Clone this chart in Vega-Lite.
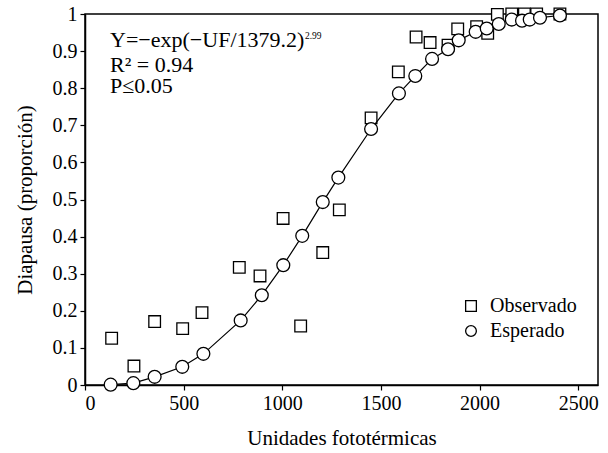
{
  "$schema": "https://vega.github.io/schema/vega-lite/v6.json",
  "width": 513,
  "height": 371,
  "autosize": {"type": "none"},
  "padding": {"left": 85, "top": 14, "right": 10, "bottom": 68},
  "background": "white",
  "config": {
    "font": "Liberation Serif",
    "view": {"stroke": "black", "strokeWidth": 1.5},
    "axis": {
      "grid": false,
      "domainColor": "black",
      "domainWidth": 1.5,
      "tickColor": "black",
      "tickWidth": 1.2,
      "tickSize": 5,
      "labelColor": "black",
      "titleColor": "black",
      "labelFont": "Liberation Serif",
      "titleFont": "Liberation Serif",
      "labelFontSize": 20,
      "titleFontSize": 21,
      "titleFontWeight": "normal",
      "labelPadding": 3
    },
    "legend": {
      "labelFont": "Liberation Serif",
      "labelFontSize": 20,
      "labelColor": "black"
    }
  },
  "datasets": {
    "pts": [
      {"uf": 135, "prop": 0.126, "serie": "Observado"},
      {"uf": 248, "prop": 0.051, "serie": "Observado"},
      {"uf": 353, "prop": 0.171, "serie": "Observado"},
      {"uf": 495, "prop": 0.152, "serie": "Observado"},
      {"uf": 593, "prop": 0.195, "serie": "Observado"},
      {"uf": 782, "prop": 0.317, "serie": "Observado"},
      {"uf": 887, "prop": 0.294, "serie": "Observado"},
      {"uf": 1004, "prop": 0.449, "serie": "Observado"},
      {"uf": 1093, "prop": 0.159, "serie": "Observado"},
      {"uf": 1205, "prop": 0.357, "serie": "Observado"},
      {"uf": 1289, "prop": 0.472, "serie": "Observado"},
      {"uf": 1450, "prop": 0.72, "serie": "Observado"},
      {"uf": 1588, "prop": 0.844, "serie": "Observado"},
      {"uf": 1678, "prop": 0.938, "serie": "Observado"},
      {"uf": 1749, "prop": 0.923, "serie": "Observado"},
      {"uf": 1840, "prop": 0.916, "serie": "Observado"},
      {"uf": 1889, "prop": 0.96, "serie": "Observado"},
      {"uf": 1985, "prop": 0.966, "serie": "Observado"},
      {"uf": 2041, "prop": 0.948, "serie": "Observado"},
      {"uf": 2090, "prop": 0.999, "serie": "Observado"},
      {"uf": 2163, "prop": 1.0, "serie": "Observado"},
      {"uf": 2227, "prop": 1.0, "serie": "Observado"},
      {"uf": 2289, "prop": 1.0, "serie": "Observado"},
      {"uf": 2407, "prop": 1.0, "serie": "Observado"},
      {"uf": 130, "prop": 0.001, "serie": "Esperado"},
      {"uf": 245, "prop": 0.005, "serie": "Esperado"},
      {"uf": 353, "prop": 0.022, "serie": "Esperado"},
      {"uf": 493, "prop": 0.049, "serie": "Esperado"},
      {"uf": 600, "prop": 0.084, "serie": "Esperado"},
      {"uf": 789, "prop": 0.174, "serie": "Esperado"},
      {"uf": 896, "prop": 0.242, "serie": "Esperado"},
      {"uf": 1005, "prop": 0.323, "serie": "Esperado"},
      {"uf": 1101, "prop": 0.402, "serie": "Esperado"},
      {"uf": 1205, "prop": 0.493, "serie": "Esperado"},
      {"uf": 1284, "prop": 0.559, "serie": "Esperado"},
      {"uf": 1450, "prop": 0.69, "serie": "Esperado"},
      {"uf": 1591, "prop": 0.786, "serie": "Esperado"},
      {"uf": 1674, "prop": 0.833, "serie": "Esperado"},
      {"uf": 1759, "prop": 0.879, "serie": "Esperado"},
      {"uf": 1840, "prop": 0.905, "serie": "Esperado"},
      {"uf": 1894, "prop": 0.929, "serie": "Esperado"},
      {"uf": 1980, "prop": 0.952, "serie": "Esperado"},
      {"uf": 2036, "prop": 0.961, "serie": "Esperado"},
      {"uf": 2097, "prop": 0.973, "serie": "Esperado"},
      {"uf": 2163, "prop": 0.985, "serie": "Esperado"},
      {"uf": 2215, "prop": 0.982, "serie": "Esperado"},
      {"uf": 2254, "prop": 0.985, "serie": "Esperado"},
      {"uf": 2306, "prop": 0.99, "serie": "Esperado"},
      {"uf": 2407, "prop": 0.996, "serie": "Esperado"}
    ]
  },
  "layer": [
    {
      "data": {"name": "pts"},
      "transform": [{"filter": "datum.serie === 'Observado'"}],
      "mark": {"type": "point", "filled": false, "color": "black", "fill": "white", "fillOpacity": 1, "strokeWidth": 1.3, "size": 135, "opacity": 1},
      "encoding": {
        "x": {
          "field": "uf", "type": "quantitative",
          "scale": {"domain": [0, 2600], "nice": false, "zero": false},
          "axis": {"values": [0, 500, 1000, 1500, 2000, 2500], "format": "d", "title": "Unidades fototérmicas", "titlePadding": 14, "labelOverlap": false}
        },
        "y": {
          "field": "prop", "type": "quantitative",
          "scale": {"domain": [0, 1], "nice": false},
          "axis": {"tickCount": 10, "format": "~g", "title": "Diapausa (proporción)", "titlePadding": 17, "labelOverlap": false, "labelBound": false, "labelFlush": false}
        },
        "shape": {
          "field": "serie", "type": "nominal",
          "scale": {"domain": ["Observado", "Esperado"], "range": ["square", "circle"]},
          "legend": {
            "title": null,
            "orient": "none",
            "legendX": 376,
            "legendY": 282,
            "labelOffset": 9,
            "rowPadding": 5,
            "symbolSize": 115,
            "symbolStrokeWidth": 1.3
          }
        }
      }
    },
    {
      "data": {"name": "pts"},
      "transform": [{"filter": "datum.serie === 'Esperado'"}],
      "mark": {"type": "line", "color": "black", "strokeWidth": 1.2},
      "encoding": {
        "x": {"field": "uf", "type": "quantitative"},
        "y": {"field": "prop", "type": "quantitative"}
      }
    },
    {
      "data": {"name": "pts"},
      "transform": [{"filter": "datum.serie === 'Esperado'"}],
      "mark": {"type": "point", "filled": false, "color": "black", "fill": "white", "fillOpacity": 1, "strokeWidth": 1.3, "size": 165, "opacity": 1},
      "encoding": {
        "x": {"field": "uf", "type": "quantitative"},
        "y": {"field": "prop", "type": "quantitative"},
        "shape": {"field": "serie", "type": "nominal"}
      }
    },
    {
      "data": {"values": [{"t": "Y=−exp(−UF/1379.2)"}]},
      "mark": {"type": "text", "align": "left", "baseline": "alphabetic", "fontSize": 22, "font": "Liberation Serif", "color": "black"},
      "encoding": {"x": {"datum": 127}, "y": {"datum": 0.911}, "text": {"field": "t"}}
    },
    {
      "data": {"values": [{"t": "2.99"}]},
      "mark": {"type": "text", "align": "left", "baseline": "alphabetic", "fontSize": 9.5, "font": "Liberation Serif", "color": "black"},
      "encoding": {"x": {"datum": 1115}, "y": {"datum": 0.933}, "text": {"field": "t"}}
    },
    {
      "data": {"values": [{"t": "R² = 0.94"}]},
      "mark": {"type": "text", "align": "left", "baseline": "alphabetic", "fontSize": 22, "font": "Liberation Serif", "color": "black"},
      "encoding": {"x": {"datum": 127}, "y": {"datum": 0.845}, "text": {"field": "t"}}
    },
    {
      "data": {"values": [{"t": "P≤0.05"}]},
      "mark": {"type": "text", "align": "left", "baseline": "alphabetic", "fontSize": 22, "font": "Liberation Serif", "color": "black"},
      "encoding": {"x": {"datum": 127}, "y": {"datum": 0.787}, "text": {"field": "t"}}
    }
  ]
}
